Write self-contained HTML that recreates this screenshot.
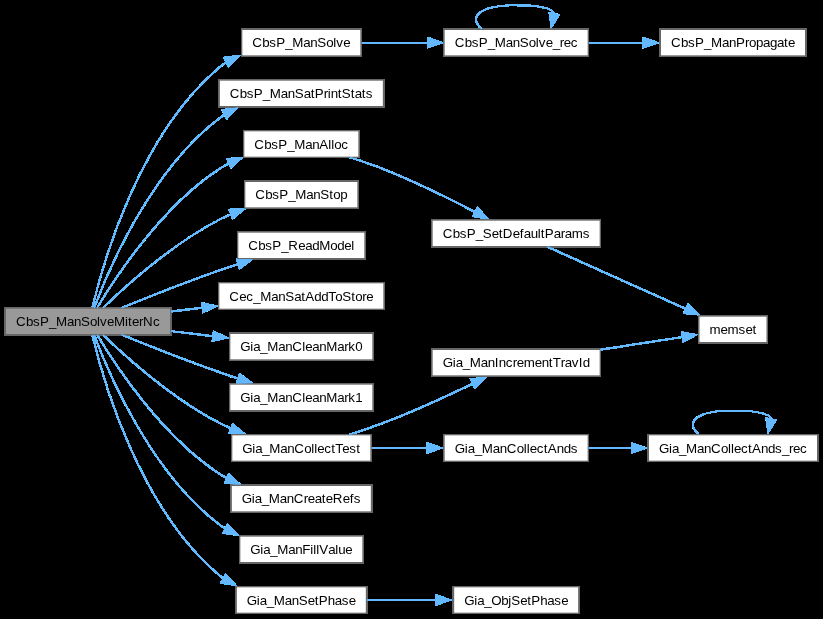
<!DOCTYPE html>
<html><head><meta charset="utf-8"><title>CbsP_ManSolveMiterNc</title>
<style>
html,body{margin:0;padding:0;background:#000;}
svg{display:block;will-change:transform;}
text{font-family:"Liberation Sans",sans-serif;font-size:13.333px;fill:#000;}
.n{stroke:#666;stroke-width:1.3333;}
.e{fill:none;stroke:#63b8ff;stroke-width:1.3333;}
.a{fill:#63b8ff;stroke:#63b8ff;stroke-width:1.3333;}
</style></head><body>
<svg width="823" height="619" viewBox="0 0 823 619">
<defs><filter id="f" filterUnits="userSpaceOnUse" x="0" y="0" width="823" height="619" color-interpolation-filters="sRGB"><feComponentTransfer><feFuncA type="linear" slope="255" intercept="0"/></feComponentTransfer></filter></defs>
<g filter="url(#f)">
<rect class="n" x="5.33" y="308.00" width="165.33" height="26.67" fill="#999999"/>
<text x="16.00 26.00 33.00 40.00 49.00 56.00 67.00 74.00 81.00 90.00 97.00 100.00 107.00 114.00 125.00 128.00 132.00 139.00 143.00 153.00" y="326.00">CbsP_ManSolveMiterNc</text>
<rect class="n" x="243.67" y="130.67" width="115.33" height="26.67" fill="white"/>
<text x="254.33 264.33 271.33 278.33 287.33 294.33 305.33 312.33 319.33 328.33 331.33 334.33 341.33" y="149.00">CbsP_ManAlloc</text>
<path class="e" d="M97.16,307.73C114.89,278.11 161.13,207.35 218.67,169.33 222.61,166.73 226.84,164.37 231.21,162.25"/>
<polygon class="a" points="227.22,158.89 241.33,157.97 230.88,167.47 227.22,158.89"/>
<rect class="n" x="219.17" y="80.00" width="164.33" height="26.67" fill="white"/>
<text x="229.83 239.83 246.83 253.83 262.83 269.83 280.83 287.83 294.83 303.83 310.83 314.83 323.83 327.83 330.83 337.83 341.83 350.83 354.83 361.83 365.83" y="98.00">CbsP_ManSatPrintStats</text>
<path class="e" d="M94.19,307.67C107.83,271.25 150.01,171.12 218.67,118.67 221.44,116.55 224.40,114.60 227.48,112.81"/>
<polygon class="a" points="222.67,109.99 236.69,108.27 226.80,118.36 222.67,109.99"/>
<rect class="n" x="241.67" y="29.33" width="119.33" height="26.67" fill="white"/>
<text x="252.33 262.33 269.33 276.33 285.33 292.33 303.33 310.33 317.33 326.33 333.33 336.33 343.33" y="47.00">CbsP_ManSolve</text>
<path class="e" d="M92.39,307.44C102.45,264.93 138.63,135.47 218.67,68.00 221.84,65.32 225.31,62.93 228.95,60.79"/>
<polygon class="a" points="224.58,57.75 238.59,56.00 228.73,66.11 224.58,57.75"/>
<rect class="n" x="244.67" y="181.33" width="113.33" height="26.67" fill="white"/>
<text x="255.33 265.33 272.33 279.33 288.33 295.33 306.33 313.33 320.33 329.33 333.33 340.33" y="199.00">CbsP_ManStop</text>
<path class="e" d="M102.88,307.93C125.20,286.52 171.93,244.52 218.67,220.00 223.68,217.37 229.00,214.96 234.44,212.77"/>
<polygon class="a" points="229.43,209.65 243.55,209.39 232.67,218.41 229.43,209.65"/>
<rect class="n" x="237.67" y="232.00" width="127.33" height="26.67" fill="white"/>
<text x="248.33 258.33 265.33 272.33 281.33 288.33 298.33 305.33 312.33 319.33 330.33 337.33 344.33 351.33" y="250.00">CbsP_ReadModel</text>
<path class="e" d="M121.52,307.99C147.53,297.37 185.21,282.41 218.67,270.67 226.17,268.03 234.12,265.39 241.99,262.84"/>
<polygon class="a" points="236.91,259.56 251.03,259.98 239.73,268.45 236.91,259.56"/>
<rect class="n" x="218.67" y="282.67" width="165.33" height="26.67" fill="white"/>
<text x="229.33 239.33 246.33 253.33 260.33 271.33 278.33 285.33 294.33 301.33 305.33 314.33 321.33 328.33 335.33 342.33 351.33 355.33 362.33 366.33" y="301.00">Cec_ManSatAddToStore</text>
<path class="e" d="M170.79,311.53C182.01,310.19 193.64,308.79 205.08,307.41"/>
<polygon class="a" points="201.96,303.09 215.76,306.13 203.06,312.36 201.96,303.09"/>
<rect class="n" x="229.67" y="333.33" width="143.33" height="26.67" fill="white"/>
<text x="240.33 250.33 253.33 260.33 267.33 278.33 285.33 292.33 302.33 305.33 312.33 319.33 326.33 337.33 344.33 348.33 355.33" y="351.00">Gia_ManCleanMark0</text>
<path class="e" d="M170.79,331.13C185.49,332.89 200.87,334.75 215.67,336.52"/>
<polygon class="a" points="213.70,331.59 226.38,337.81 212.60,340.85 213.70,331.59"/>
<rect class="n" x="229.67" y="384.00" width="143.33" height="26.67" fill="white"/>
<text x="240.33 250.33 253.33 260.33 267.33 278.33 285.33 292.33 302.33 305.33 312.33 319.33 326.33 337.33 344.33 348.33 355.33" y="402.00">Gia_ManCleanMark1</text>
<path class="e" d="M121.52,334.68C147.53,345.29 185.21,360.25 218.67,372.00 226.17,374.64 234.12,377.28 241.99,379.83"/>
<polygon class="a" points="239.73,374.22 251.03,382.68 236.91,383.11 239.73,374.22"/>
<rect class="n" x="231.67" y="434.67" width="139.33" height="26.67" fill="white"/>
<text x="242.33 252.33 255.33 262.33 269.33 280.33 287.33 294.33 304.33 311.33 314.33 317.33 324.33 331.33 335.33 342.33 349.33 356.33" y="453.00">Gia_ManCollectTest</text>
<path class="e" d="M102.88,334.73C125.20,356.15 171.93,398.15 218.67,422.67 223.68,425.29 229.00,427.71 234.44,429.89"/>
<polygon class="a" points="232.67,424.26 243.55,433.27 229.43,433.02 232.67,424.26"/>
<rect class="n" x="231.17" y="485.33" width="140.33" height="26.67" fill="white"/>
<text x="241.83 251.83 254.83 261.83 268.83 279.83 286.83 293.83 303.83 307.83 314.83 321.83 325.83 332.83 342.83 349.83 353.83" y="503.00">Gia_ManCreateRefs</text>
<path class="e" d="M97.16,334.93C114.89,364.56 161.13,435.32 218.67,473.33 222.31,475.73 226.19,477.92 230.20,479.91"/>
<polygon class="a" points="228.83,474.22 239.19,483.82 225.10,482.78 228.83,474.22"/>
<rect class="n" x="239.67" y="536.00" width="123.33" height="26.67" fill="white"/>
<text x="250.33 260.33 263.33 270.33 277.33 288.33 295.33 302.33 310.33 313.33 316.33 319.33 328.33 335.33 338.33 345.33" y="554.00">Gia_ManFillValue</text>
<path class="e" d="M94.19,335.00C107.83,371.41 150.01,471.55 218.67,524.00 221.44,526.12 224.40,528.07 227.48,529.85"/>
<polygon class="a" points="227.48,524.64 237.38,534.74 223.35,533.02 227.48,524.64"/>
<rect class="n" x="236.17" y="586.67" width="130.33" height="26.67" fill="white"/>
<text x="246.83 256.83 259.83 266.83 273.83 284.83 291.83 298.83 307.83 314.83 318.83 327.83 334.83 341.83 348.83" y="605.00">Gia_ManSetPhase</text>
<path class="e" d="M92.39,335.23C102.45,377.73 138.63,507.20 218.67,574.67 221.01,576.64 223.51,578.47 226.12,580.15"/>
<polygon class="a" points="225.63,574.57 235.15,585.01 221.20,582.79 225.63,574.57"/>
<rect class="n" x="432.00" y="220.00" width="168.33" height="26.67" fill="white"/>
<text x="442.67 452.67 459.67 466.67 475.67 482.67 491.67 498.67 502.67 512.67 519.67 523.67 530.67 537.67 540.67 544.67 553.67 560.67 564.67 571.67 582.67" y="238.00">CbsP_SetDefaultParams</text>
<path class="e" d="M349.97,157.39C361.24,160.95 373.15,165.01 384.00,169.33 416.68,182.33 452.45,200.12 478.29,213.64"/>
<polygon class="a" points="477.47,207.94 487.09,218.30 473.11,216.19 477.47,207.94"/>
<rect class="n" x="698.83" y="316.00" width="68.33" height="26.67" fill="white"/>
<text x="709.50 720.50 727.50 738.50 745.50 752.50" y="334.00">memset</text>
<path class="e" d="M547.09,246.68C584.04,263.25 647.29,291.64 689.21,310.44"/>
<polygon class="a" points="687.90,304.73 698.15,314.45 684.09,313.25 687.90,304.73"/>
<rect class="n" x="444.00" y="29.33" width="144.33" height="26.67" fill="white"/>
<text x="454.67 464.67 471.67 478.67 487.67 494.67 505.67 512.67 519.67 528.67 535.67 538.67 545.67 552.67 559.67 563.67 570.67" y="47.00">CbsP_ManSolve_rec</text>
<path class="e" d="M361.72,42.67C383.03,42.67 407.49,42.67 430.53,42.67"/>
<polygon class="a" points="427.88,38.00 441.21,42.67 427.88,47.33 427.88,38.00"/>
<path class="e" d="M481.87,28.97C468.17,17.37 478.17,5.27 516.17,5.27C538.17,5.27 552.17,8.07 554.37,13.57"/>
<polygon class="a" points="558.71,14.87 551.43,26.77 549.57,12.97 558.71,14.87"/>
<rect class="n" x="660.33" y="29.33" width="145.33" height="26.67" fill="white"/>
<text x="671.00 681.00 688.00 695.00 704.00 711.00 722.00 729.00 736.00 745.00 749.00 756.00 763.00 770.00 777.00 784.00 788.00" y="47.00">CbsP_ManPropagate</text>
<path class="e" d="M588.59,42.67C606.99,42.67 626.97,42.67 646.00,42.67"/>
<polygon class="a" points="643.64,38.00 656.97,42.67 643.64,47.33 643.64,38.00"/>
<rect class="n" x="444.00" y="434.67" width="144.33" height="26.67" fill="white"/>
<text x="454.67 464.67 467.67 474.67 481.67 492.67 499.67 506.67 516.67 523.67 526.67 529.67 536.67 543.67 547.67 556.67 563.67 570.67" y="453.00">Gia_ManCollectAnds</text>
<path class="e" d="M371.49,448.00C390.08,448.00 410.40,448.00 429.76,448.00"/>
<polygon class="a" points="427.62,443.33 440.96,448.00 427.62,452.67 427.62,443.33"/>
<rect class="n" x="432.00" y="349.33" width="168.33" height="26.67" fill="white"/>
<text x="442.67 452.67 455.67 462.67 469.67 480.67 487.67 494.67 498.67 505.67 512.67 516.67 523.67 534.67 541.67 548.67 552.67 560.67 564.67 571.67 578.67 582.67" y="367.00">Gia_ManIncrementTravId</text>
<path class="e" d="M349.47,434.55C360.87,430.96 372.95,426.91 384.00,422.67 415.51,410.59 450.16,394.53 475.87,382.08"/>
<polygon class="a" points="470.87,379.33 484.89,377.66 474.97,387.71 470.87,379.33"/>
<rect class="n" x="648.33" y="434.67" width="169.33" height="26.67" fill="white"/>
<text x="659.00 669.00 672.00 679.00 686.00 697.00 704.00 711.00 721.00 728.00 731.00 734.00 741.00 748.00 752.00 761.00 768.00 775.00 782.00 789.00 793.00 800.00" y="453.00">Gia_ManCollectAnds_rec</text>
<path class="e" d="M588.59,448.00C603.27,448.00 618.95,448.00 634.35,448.00"/>
<polygon class="a" points="631.77,443.33 645.10,448.00 631.77,452.67 631.77,443.33"/>
<path class="e" d="M698.70,434.30C685.00,422.70 695.00,410.60 733.00,410.60C755.00,410.60 769.00,413.40 771.20,418.90"/>
<polygon class="a" points="775.54,420.20 768.26,432.10 766.40,418.30 775.54,420.20"/>
<path class="e" d="M600.07,349.77C628.92,345.28 660.24,340.41 685.05,336.55"/>
<polygon class="a" points="681.93,332.31 695.82,334.87 683.37,341.53 681.93,332.31"/>
<rect class="n" x="453.50" y="586.67" width="125.33" height="26.67" fill="white"/>
<text x="464.17 474.17 477.17 484.17 491.17 501.17 508.17 511.17 520.17 527.17 531.17 540.17 547.17 554.17 561.17" y="605.00">Gia_ObjSetPhase</text>
<path class="e" d="M366.85,600.00C389.57,600.00 415.33,600.00 438.92,600.00"/>
<polygon class="a" points="436.50,595.33 449.84,600.00 436.50,604.67 436.50,595.33"/>
</g>
</svg>
</body></html>
